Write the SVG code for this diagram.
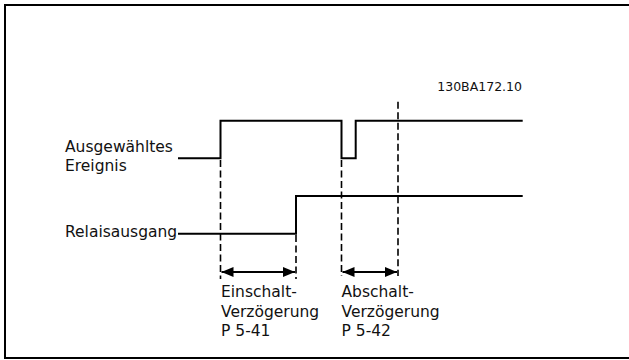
<svg xmlns="http://www.w3.org/2000/svg" width="629" height="360" viewBox="0 0 629 360">
<style>
.sig{fill:none;stroke:#000;stroke-width:2}
.dash{fill:none;stroke:#000;stroke-width:1.6;stroke-dasharray:7 3.5}
.dim{fill:none;stroke:#000;stroke-width:1.8}
.lbl{font-family:"DejaVu Sans",Verdana,sans-serif;font-size:15.5px;fill:#111}
.code{font-family:"DejaVu Sans",sans-serif;font-size:12.5px;fill:#111}
</style>
<defs>
<marker id="ah" viewBox="0 0 12 10" refX="12" refY="5" markerWidth="12" markerHeight="10" markerUnits="userSpaceOnUse" orient="auto-start-reverse">
<path d="M0,0 L12,5 L0,10 Z" fill="#000"/>
</marker>
</defs>
<rect x="0" y="0" width="629" height="360" fill="#fff"/>
<path d="M640,5 H5 V358 H640" fill="none" stroke="#000" stroke-width="2"/>
<g id="code"><text class="code" x="522" y="91" text-anchor="end">130BA172.10</text></g>
<g id="event">
<text class="lbl" x="65" y="152">Ausgewähltes</text>
<text class="lbl" x="65" y="171">Ereignis</text>
</g>
<g id="relay">
<text class="lbl" x="65" y="237">Relaisausgang</text>
</g>
<g id="on-delay">
<text class="lbl" x="221" y="297">Einschalt-</text>
<text class="lbl" x="221" y="316.5">Verzögerung</text>
<text class="lbl" x="221" y="336">P 5-41</text>
</g>
<g id="off-delay">
<text class="lbl" x="341.5" y="297">Abschalt-</text>
<text class="lbl" x="341.5" y="316.5">Verzögerung</text>
<text class="lbl" x="341.5" y="336">P 5-42</text>
</g>
<g id="connectors">
<path class="sig" d="M178,158.3 H220.5 V120.7 H341.5 V158.3 H355.7 V120.7 H522.7"/>
<path class="sig" d="M178,233.7 H296 V196 H522.7"/>
<path class="dash" d="M220.5,160 V279"/>
<path class="dash" d="M296,235 V279"/>
<path class="dash" d="M341.5,160 V276"/>
<path class="dash" d="M398,101.7 V276"/>
<path class="dim" d="M221.5,272 H295" marker-start="url(#ah)" marker-end="url(#ah)"/>
<path class="dim" d="M342.5,272 H397" marker-start="url(#ah)" marker-end="url(#ah)"/>
</g>
</svg>
